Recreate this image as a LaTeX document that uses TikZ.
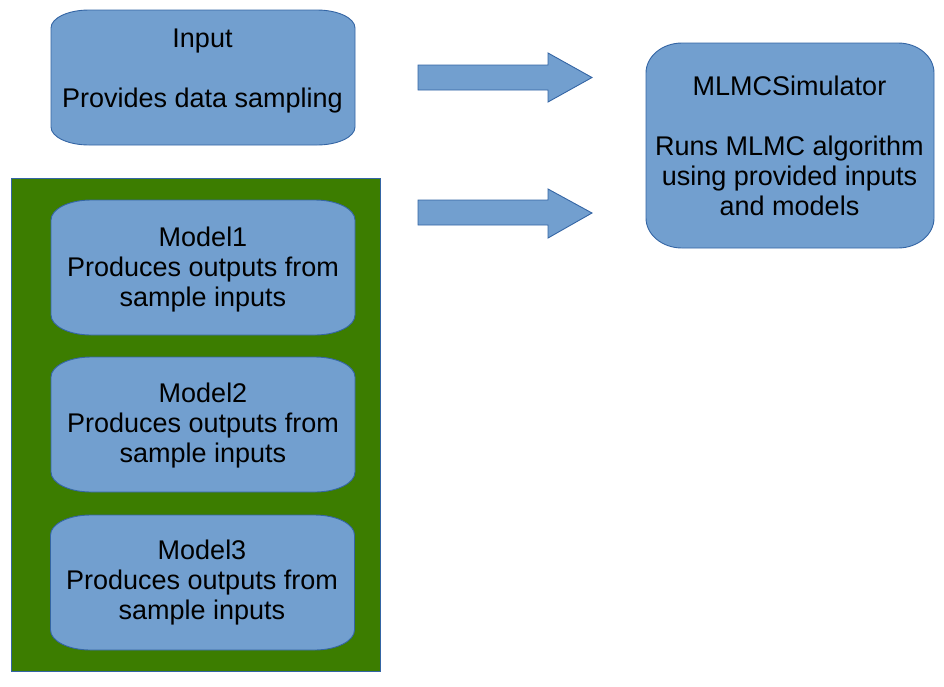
\documentclass[tikz,border=0pt]{standalone}
\usepackage{fontspec}
\setmainfont{Liberation Sans}
\usetikzlibrary{calc}
\pgfdeclarelayer{back}
\pgfdeclarelayer{mid}
\pgfsetlayers{back,mid,main}
\definecolor{boxblue}{HTML}{729FCF}
\definecolor{boxline}{HTML}{3465A4}
\definecolor{grp}{HTML}{3C7D00}
\tikzset{
  boxsty/.style={fill=boxblue, draw=boxline, line width=0.9pt},
  boxnode/.style={inner sep=0pt, outer sep=0pt},
  txt/.style={font=\fontsize{27}{30}\selectfont, align=center, inner sep=0pt, text=black},
  arrsty/.style={fill=boxblue, draw=boxline, line width=0.9pt, line join=miter},
  grpsty/.style={fill=grp, draw=boxline, line width=0.8pt, inner sep=0pt}
}
\newcommand\eshape[3]{%
\path[boxsty]
 ([xshift=#2pt]#1.north west) -- ([xshift=-#2pt]#1.north east)
 .. controls ([xshift=-0.448*#2pt]#1.north east) and ([yshift=-0.448*#3pt]#1.north east) .. ([yshift=-#3pt]#1.north east)
 -- ([yshift=#3pt]#1.south east)
 .. controls ([yshift=0.448*#3pt]#1.south east) and ([xshift=-0.448*#2pt]#1.south east) .. ([xshift=-#2pt]#1.south east)
 -- ([xshift=#2pt]#1.south west)
 .. controls ([xshift=0.448*#2pt]#1.south west) and ([yshift=0.448*#3pt]#1.south west) .. ([yshift=#3pt]#1.south west)
 -- ([yshift=-#3pt]#1.north west)
 .. controls ([yshift=-0.448*#3pt]#1.north west) and ([xshift=0.448*#2pt]#1.north west) .. ([xshift=#2pt]#1.north west)
 -- cycle;}
\begin{document}
\begin{tikzpicture}[x=1pt,y=-1pt]
\useasboundingbox (0,0) rectangle (944,686);
% group rectangle
\begin{pgfonlayer}{back}
\node[grpsty, minimum width=369pt, minimum height=493pt] (group) at (195.5,424.5) {};
\end{pgfonlayer}
% boxes
\node[boxnode, minimum width=304pt, minimum height=135pt] (input) at (203,77.5) {};
\node[boxnode, minimum width=304pt, minimum height=135pt] (model1) at (203,267.5) {};
\node[boxnode, minimum width=304pt, minimum height=135pt] (model2) at (203,424.5) {};
\node[boxnode, minimum width=304pt, minimum height=135pt] (model3) at (202.5,582.5) {};
\node[boxnode, minimum width=288pt, minimum height=205pt] (sim) at (790,145.5) {};
\begin{pgfonlayer}{mid}
\eshape{input}{38}{18}
\eshape{model1}{40}{20}
\eshape{model2}{40}{20}
\eshape{model3}{40}{20}
\eshape{sim}{36}{30}
\end{pgfonlayer}
% texts
\node[txt] (inputtxt) at (202.5,71) {Input\\[30pt]Provides data sampling};
\node[txt] (model1txt) at (203,269.5) {Model1\\Produces outputs from\\sample inputs};
\node[txt] (model2txt) at (203,426) {Model2\\Produces outputs from\\sample inputs};
\node[txt] (model3txt) at (202,583) {Model3\\Produces outputs from\\sample inputs};
\node[txt] (simtxt) at (789.5,145.5) {MLMCSimulator\\[30pt]Runs MLMC algorithm\\using provided inputs\\and models};
% block arrows
\coordinate (arr1) at (418,77.5);
\coordinate (arr2) at (418,212.5);
\draw[arrsty, shift={(arr1)}] (0,-12.5) -- (130,-12.5) -- (130,-24.5) -- (174,0) -- (130,24.5) -- (130,12.5) -- (0,12.5) -- cycle;
\draw[arrsty, shift={(arr2)}] (0,-12.5) -- (130,-12.5) -- (130,-23.5) -- (174,0.5) -- (130,25.5) -- (130,12.5) -- (0,12.5) -- cycle;
\end{tikzpicture}
\end{document}
